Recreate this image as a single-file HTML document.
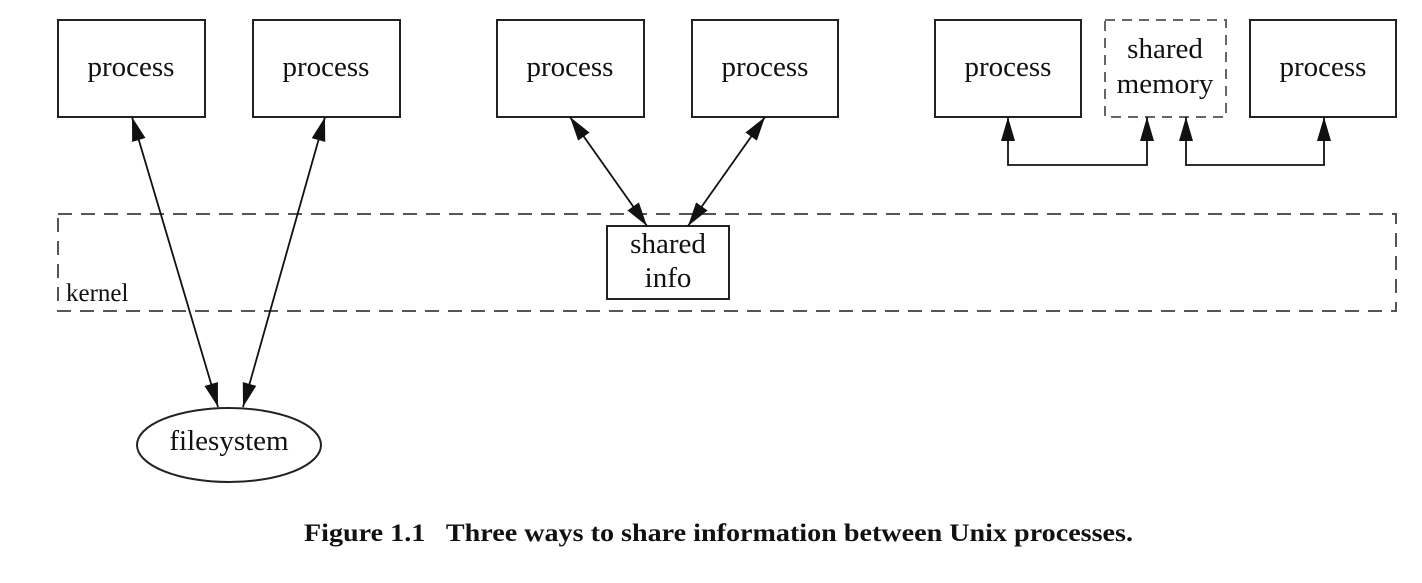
<!DOCTYPE html>
<html><head><meta charset="utf-8"><style>
html,body{margin:0;padding:0;background:#fff;}
svg{display:block;}
text{font-family:"Liberation Serif",serif;fill:#111;}
</style></head><body>
<svg width="1422" height="583" viewBox="0 0 1422 583" xmlns="http://www.w3.org/2000/svg">
<defs>
<marker id="b" viewBox="0 0 10 10" refX="10" refY="5" markerWidth="24" markerHeight="14" markerUnits="userSpaceOnUse" orient="auto-start-reverse" preserveAspectRatio="none">
<path d="M0,0 L10,5 L0,10 z" fill="#111"/></marker>
</defs>
<g fill="none" stroke="#222" stroke-width="2">
<rect x="58" y="20" width="147" height="97"/>
<rect x="253" y="20" width="147" height="97"/>
<rect x="497" y="20" width="147" height="97"/>
<rect x="692" y="20" width="146" height="97"/>
<rect x="935" y="20" width="146" height="97"/>
<rect x="1250" y="20" width="146" height="97"/>
<rect x="1105" y="20" width="121" height="97" stroke="#666" stroke-dasharray="10,7"/>
<rect x="58" y="214" width="1338" height="97" stroke="#555" stroke-dasharray="14,9"/>
<rect x="607" y="226" width="122" height="73"/>
<ellipse cx="229" cy="445" rx="92" ry="37"/>
</g>
<g stroke="#111" stroke-width="1.8" fill="none">
<line x1="132" y1="117" x2="218" y2="407" marker-start="url(#b)" marker-end="url(#b)"/>
<line x1="325" y1="117" x2="243" y2="407" marker-start="url(#b)" marker-end="url(#b)"/>
<line x1="570" y1="117" x2="647" y2="226" marker-start="url(#b)" marker-end="url(#b)"/>
<line x1="765" y1="117" x2="688" y2="226" marker-start="url(#b)" marker-end="url(#b)"/>
<polyline points="1008,117 1008,165 1147,165 1147,117" marker-start="url(#b)" marker-end="url(#b)"/>
<polyline points="1186,117 1186,165 1324,165 1324,117" marker-start="url(#b)" marker-end="url(#b)"/>
</g>
<g font-size="29" text-anchor="middle">
<text x="131" y="76">process</text>
<text x="326" y="76">process</text>
<text x="570" y="76">process</text>
<text x="765" y="76">process</text>
<text x="1008" y="76">process</text>
<text x="1323" y="76">process</text>
<text x="1165" y="58">shared</text>
<text x="1165" y="93">memory</text>
<text x="668" y="253">shared</text>
<text x="668" y="287">info</text>
<text x="229" y="450">filesystem</text>
</g>
<text x="66" y="301" font-size="25">kernel</text>
<text x="304" y="541" font-size="25" font-weight="bold" textLength="829" lengthAdjust="spacingAndGlyphs">Figure 1.1&#160;&#160; Three ways to share information between Unix processes.</text>
</svg>
</body></html>
